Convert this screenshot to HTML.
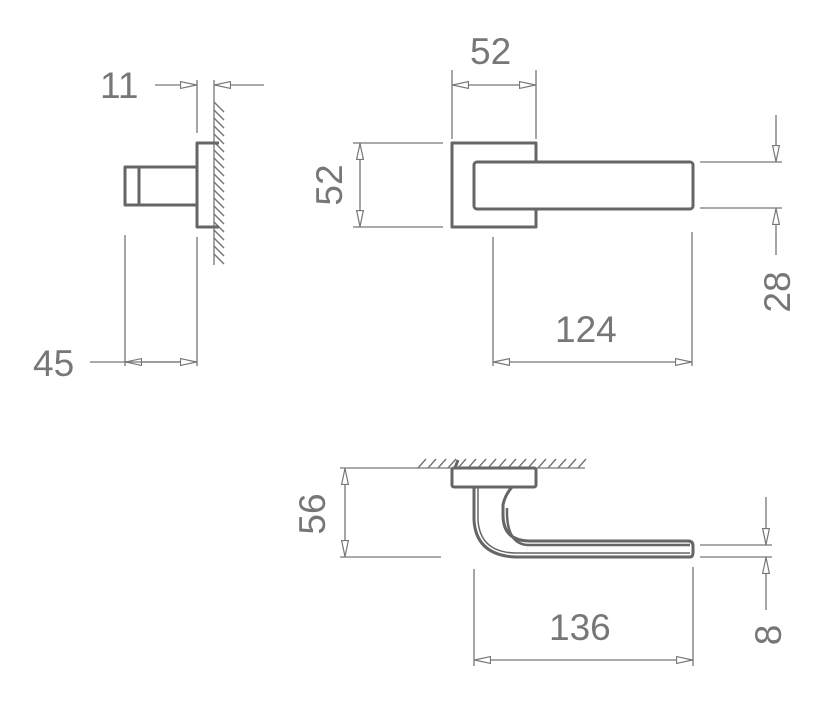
<!DOCTYPE html>
<html><head><meta charset="utf-8"><style>
html,body{margin:0;padding:0;background:#fff;}
svg{display:block;}
text{font-family:"Liberation Sans",sans-serif;font-size:37px;fill:#777;}
</style></head><body>
<svg width="831" height="710" viewBox="0 0 831 710" xmlns="http://www.w3.org/2000/svg">
<defs>
<marker id="a" viewBox="0 0 17 8" refX="17" refY="4" markerWidth="17" markerHeight="8" markerUnits="userSpaceOnUse" orient="auto-start-reverse">
<path d="M0.5,0.6 L16.5,4 L0.5,7.4 Z" fill="#fff" stroke="#777" stroke-width="1.2"/>
</marker>
</defs>
<g stroke="#777" stroke-width="1.3" fill="none">
<!-- LEFT VIEW -->
<line x1="155" y1="85" x2="197" y2="85" marker-end="url(#a)"/>
<line x1="264" y1="85" x2="214" y2="85" marker-end="url(#a)"/>
<line x1="197" y1="80" x2="197" y2="133"/>
<line x1="214" y1="80" x2="214" y2="265"/>
<g stroke-width="1.5">
<path d="M214,102 l10,10 M214,110 l10,10 M214,118 l10,10 M214,126 l10,10 M214,134 l10,10 M214,142 l10,10 M214,150 l10,10 M214,158 l10,10 M214,166 l10,10 M214,174 l10,10 M214,182 l10,10 M214,190 l10,10 M214,198 l10,10 M214,206 l10,10 M214,214 l10,10 M214,222 l10,10 M214,230 l10,10 M214,238 l10,10 M214,246 l10,10 M214,254 l10,10"/>
</g>
<line x1="125" y1="235" x2="125" y2="366"/>
<line x1="197" y1="237" x2="197" y2="366"/>
<line x1="90" y1="362" x2="125" y2="362"/>
<line x1="197" y1="362" x2="125" y2="362" marker-end="url(#a)"/>
<line x1="125" y1="362" x2="197" y2="362" marker-end="url(#a)"/>
<!-- MIDDLE VIEW -->
<line x1="452" y1="70" x2="452" y2="139"/>
<line x1="536" y1="70" x2="536" y2="139"/>
<line x1="494" y1="85" x2="452" y2="85" marker-end="url(#a)"/>
<line x1="494" y1="85" x2="536" y2="85" marker-end="url(#a)"/>
<line x1="353" y1="143" x2="443" y2="143"/>
<line x1="353" y1="227" x2="443" y2="227"/>
<line x1="360" y1="185" x2="360" y2="143" marker-end="url(#a)"/>
<line x1="360" y1="185" x2="360" y2="227" marker-end="url(#a)"/>
<line x1="700" y1="162" x2="782" y2="162"/>
<line x1="700" y1="208" x2="782" y2="208"/>
<line x1="776" y1="115" x2="776" y2="162" marker-end="url(#a)"/>
<line x1="776" y1="255" x2="776" y2="208" marker-end="url(#a)"/>
<line x1="493" y1="237" x2="493" y2="366"/>
<line x1="692" y1="232" x2="692" y2="366"/>
<line x1="593" y1="362" x2="493" y2="362" marker-end="url(#a)"/>
<line x1="593" y1="362" x2="692" y2="362" marker-end="url(#a)"/>
<!-- BOTTOM VIEW -->
<line x1="340" y1="468" x2="585" y2="468"/>
<path stroke-width="1.5" d="M418,468 l8,-9 M428,468 l8,-9 M438,468 l8,-9 M448,468 l8,-9 M458,468 l8,-9 M468,468 l8,-9 M478,468 l8,-9 M488,468 l8,-9 M498,468 l8,-9 M508,468 l8,-9 M518,468 l8,-9 M528,468 l8,-9 M538,468 l8,-9 M548,468 l8,-9 M558,468 l8,-9 M568,468 l8,-9 M578,468 l8,-9"/>
<line x1="340" y1="557" x2="441" y2="557"/>
<line x1="345" y1="512" x2="345" y2="468" marker-end="url(#a)"/>
<line x1="345" y1="512" x2="345" y2="557" marker-end="url(#a)"/>
<line x1="700" y1="545" x2="772" y2="545"/>
<line x1="700" y1="557" x2="772" y2="557"/>
<line x1="766" y1="497" x2="766" y2="545" marker-end="url(#a)"/>
<line x1="766" y1="610" x2="766" y2="557" marker-end="url(#a)"/>
<line x1="474" y1="569" x2="474" y2="666"/>
<line x1="693" y1="567" x2="693" y2="666"/>
<line x1="583" y1="660" x2="474" y2="660" marker-end="url(#a)"/>
<line x1="583" y1="660" x2="693" y2="660" marker-end="url(#a)"/>
</g>
<g stroke="#666" stroke-width="3" fill="#fff" stroke-linejoin="round">
<path d="M219,143 L197,143 L197,227 L219,227" fill="none"/>
<rect x="125" y="167" width="72" height="38" fill="none"/>
<line x1="139" y1="167" x2="139" y2="205"/>
<rect x="452" y="143" width="84" height="84"/>
<rect x="474" y="162" width="219" height="47" rx="3"/>
<rect x="452" y="468" width="84" height="19" rx="2"/>
<path d="M474,487 L474,520 Q476,555 515,557 L690,557 Q693,557 693,552 L693,546 Q693,541 688,541 L528,541 Q503,540 503,515 L503,505 Q505,495 512,487" fill="none"/>
<path d="M478,487 L478,520 Q480,552 515,553 L690,553" fill="none" stroke-width="1.5"/>
<path d="M507,508 L507,515 Q508,544 528,545 L690,545" fill="none" stroke-width="2.5"/>
<path d="M455,468 l3,-8" fill="none"/>
</g>
<text x="100" y="98">11</text>
<text x="33" y="376">45</text>
<text x="470" y="64">52</text>
<text x="555" y="342">124</text>
<text x="549" y="640">136</text>
<text transform="translate(342,185) rotate(-90)" text-anchor="middle">52</text>
<text transform="translate(790,292) rotate(-90)" text-anchor="middle">28</text>
<text transform="translate(325,514) rotate(-90)" text-anchor="middle">56</text>
<text transform="translate(781,635) rotate(-90)" text-anchor="middle">8</text>
</svg>
</body></html>
